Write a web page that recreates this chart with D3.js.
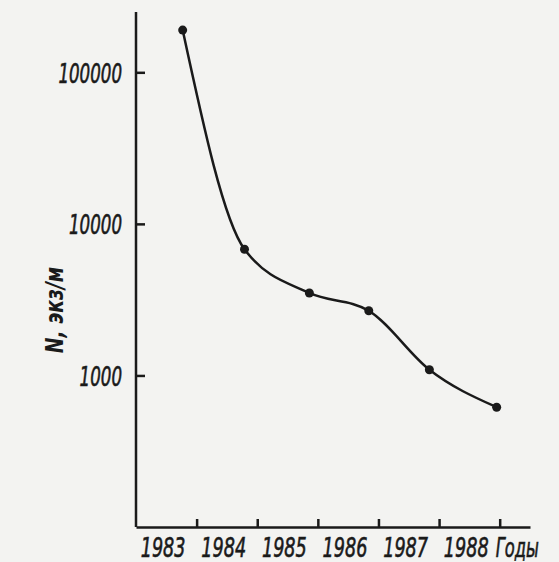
<!DOCTYPE html>
<html>
<head>
<meta charset="utf-8">
<script src="https://cdn.jsdelivr.net/npm/d3@7"></script>
<style>
  body { margin: 0; background: #f3f3f1; }
  text { font-family: "DejaVu Sans Condensed", "DejaVu Sans", sans-serif; font-style: italic; fill: #1a1a1a; }
</style>
</head>
<body>
<svg id="chart" width="559" height="562"></svg>
<script>
// годы наблюдений (доля года) и численность, экз/м
const years = [1982.77, 1983.79, 1984.86, 1985.84, 1986.84, 1987.95];
const counts = [190000, 6800, 3500, 2670, 1090, 617];
const tickYears = [1983, 1984, 1985, 1986, 1987, 1988];
const tickCounts = [1000, 10000, 100000];

const svg = d3.select("#chart");
const x = d3.scaleLinear().domain([1982, 1988.5]).range([136, 530]);
const y = d3.scaleLog().domain([100, 250000]).range([527, 12]);
const ink = "#1a1a1a";

// узкие цифры, как в оригинале
function narrow(sel, perChar) {
  sel.attr("textLength", function () { return this.textContent.length * perChar; })
    .attr("lengthAdjust", "spacingAndGlyphs");
}

// ось Y
const yAxis = svg.append("g")
  .attr("transform", `translate(${x(1982)},0)`)
  .call(d3.axisRight(y).tickValues(tickCounts).tickSize(9).tickFormat(d3.format("d")));
yAxis.select(".domain").attr("d", `M0,${y.range()[1]}V${y.range()[0]}`);
yAxis.selectAll(".tick text")
  .attr("x", -14).attr("dy", "0.36em").attr("text-anchor", "end")
  .style("font-size", "27px")
  .style("stroke", ink).style("stroke-width", 0.6)
  .call(narrow, 10.6);

// ось X
const xAxis = svg.append("g")
  .attr("transform", `translate(0,${y(100)})`)
  .call(d3.axisTop(x).tickValues(tickYears).tickSize(8).tickSizeOuter(0).tickFormat(d3.format("d")));
xAxis.selectAll(".tick text")
  .attr("y", 30).attr("dx", -34).attr("text-anchor", "middle")
  .style("font-size", "27px")
  .style("stroke", ink).style("stroke-width", 0.6)
  .call(narrow, 11.2);
xAxis.append("text")
  .attr("x", x(1988) - 4).attr("y", 30)
  .attr("text-anchor", "start")
  .style("font-size", "27px")
  .style("stroke", ink).style("stroke-width", 0.6)
  .text("Годы")
  .call(narrow, 10.8);

svg.selectAll(".domain, .tick line").attr("stroke", ink).attr("stroke-width", 2.5);
svg.selectAll(".tick text").attr("fill", ink);

// подпись оси Y
svg.append("text")
  .attr("transform", "translate(63,310) rotate(-90)")
  .attr("text-anchor", "middle")
  .style("font-size", "25px")
  .style("font-weight", "bold")
  .text("N, экз/м")
  .call(narrow, 10.8);

// кривая
const pts = years.map((d, i) => [d, counts[i]]);
svg.append("path")
  .datum(pts)
  .attr("fill", "none")
  .attr("stroke", ink)
  .attr("stroke-width", 2.5)
  .attr("d", d3.line().x(d => x(d[0])).y(d => y(d[1])).curve(d3.curveMonotoneX));

svg.selectAll("circle")
  .data(pts)
  .join("circle")
  .attr("cx", d => x(d[0]))
  .attr("cy", d => y(d[1]))
  .attr("r", 4.5)
  .attr("fill", ink);
</script>
</body>
</html>
